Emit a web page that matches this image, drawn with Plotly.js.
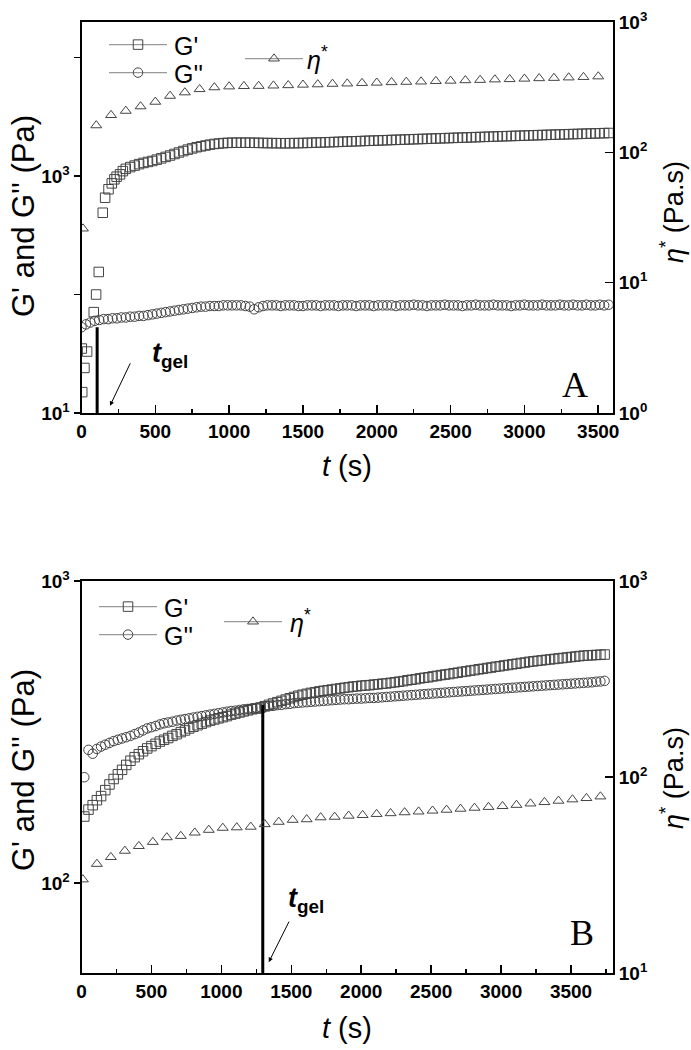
<!DOCTYPE html>
<html><head><meta charset="utf-8">
<script src="https://cdn.plot.ly/plotly-3.0.1.min.js"></script>
<style>html,body{margin:0;padding:0;background:#fff}</style>
</head><body><div id="chart" style="width:691px;height:1050px"></div>
<script>
// ---------- Panel A data ----------
const tA_GpEarly = [2,5,20,38,83,99,117,144,160,183,205,223,238,261,280];
const GpA_early  = [35,15,24,33,71,100,155,490,656,773,867,938,987,1033,1100];
const tA_GpStart = 300, tA_GpStep = 30;
const GpA = [1150,1190,1225,1260,1290,1315,1340,1375,1410,1450,
 1490,1535,1580,1625,1670,1710,1750,1780,1810,1840,
 1865,1880,1895,1905,1910,1912,1910,1912,1910,1908,
 1905,1900,1898,1895,1893,1892,1892,1893,1895,1897,
 1900,1905,1910,1915,1920,1925,1930,1936,1942,1948,
 1955,1960,1966,1972,1978,1985,1990,1996,2002,2008,
 2015,2020,2026,2032,2038,2045,2050,2056,2062,2068,
 2075,2080,2086,2092,2098,2105,2110,2116,2122,2128,
 2135,2140,2146,2152,2158,2165,2170,2176,2182,2188,
 2195,2200,2206,2212,2218,2225,2230,2236,2242,2248,
 2255,2260,2266,2272,2278,2285,2290,2296,2302,2308];
const tA_GppStart = 0, tA_GppStep = 30;
const GppA = [53,56,58,60,61,62,62,63,63,64,
 64,65,65,66,66,67,68,69,70,71,
 72,73,74,75,76,77,78,79,79,80,
 80,80,81,81,81,81,81,80,79,75,
 78,80,81,81,81,80,81,81,81,80,
 80,81,81,81,80,81,81,81,80,81,
 81,81,80,81,81,81,80,81,81,81,
 81,80,81,81,81,82,81,81,80,81,
 81,81,82,81,81,81,80,81,81,82,
 81,81,81,82,81,81,81,80,81,81,
 82,81,81,81,82,81,81,81,82,81,
 81,82,81,81,82,81,81,82,81,82];
const tA_eta = [10,100,200,300,400,500,600,700,800,900,1000,1100,1200,1300,1400,1500,1600,1700,1800,1900,2000,2100,2200,2300,2400,2500,2600,2700,2800,2900,3000,3100,3200,3300,3400,3500];
const etaA = [26,161,193,208,225,244,271,288,305,315,320,322,323,325,327,330,332,335,337,340,342,345,347,349,352,354,357,359,362,364,367,370,372,375,378,382];
const tgelA = 106, tgelA_top = 53, tgelA_bottom = 10;

// ---------- Panel B data ----------
const tB_start = 20, tB_step = 30;
const GpB = [166,175,181,188,194,203,212,221,229,237,
 246,254,261,267,273,279,284,289,294,298,
 302,307,311,316,320,325,329,333,337,341,
 345,348,351,354,357,361,364,367,370,373,
 376,378,381,385,389,393,397,401,405,409,
 413,417,420,423,426,428,431,433,435,437,
 439,441,443,445,447,448,450,451,452,454,
 455,457,458,460,462,464,466,469,471,473,
 476,478,480,483,485,488,490,492,495,497,
 500,502,505,507,510,512,515,517,520,522,
 525,527,530,532,535,537,540,542,544,546,
 548,550,552,554,556,558,560,562,564,566,
 567,568,569,570,571];
const GppB = [224,276,268,278,283,287,291,295,298,301,
 304,307,311,315,320,325,328,331,335,338,
 340,342,345,347,349,351,353,355,357,359,
 361,363,365,367,369,371,372,374,376,377,
 379,380,382,383,385,386,388,389,391,392,
 394,395,396,397,398,399,400,401,402,403,
 404,405,406,406,407,408,408,409,410,410,
 411,412,413,414,415,416,417,418,419,420,
 421,422,423,424,425,426,427,428,429,430,
 431,432,433,434,435,436,437,438,439,440,
 441,442,443,444,445,446,447,448,449,450,
 451,452,453,454,455,456,457,458,459,460,
 461,462,464,465,467];
const tB_eta = [10,110,210,310,410,510,610,710,810,910,1010,1110,1210,1310,1410,1510,1610,1710,1810,1910,2010,2110,2210,2310,2410,2510,2610,2710,2810,2910,3010,3110,3210,3310,3410,3510,3610,3710];
const etaB = [30,36,39,42,44.4,46.6,49.2,50,52,53.7,55,55.3,55.7,57.4,59,60.4,60.8,62.2,62.6,63.4,63.9,64.7,65.3,66,66.6,67.3,68,68.8,69.6,70.3,71,72,73.2,74.4,75.6,76.8,78,79.5];
const tgelB = 1296, tgelB_top = 390, tgelB_bottom = 50;

// ---------- ticks / labels ----------
const xTickStep = 500, xMinorStep = 250;
const yA_vals = [10,100,1000,10000], yA_text = ['10<sup>1</sup>',' ','10<sup>3</sup>',' '];
const yA2_vals = [1,10,100,1000], yA2_text = ['10<sup>0</sup>','10<sup>1</sup>','10<sup>2</sup>','10<sup>3</sup>'];
const yB_vals = [100,1000], yB_text = ['10<sup>2</sup>','10<sup>3</sup>'];
const yB2_vals = [10,100,1000], yB2_text = ['10<sup>1</sup>','10<sup>2</sup>','10<sup>3</sup>'];
const nameGp = "G'", nameGpp = "G''", nameEta = "<i>η</i><sup>*</sup>";

// ---------- layout helpers ----------
const W = 691, H = 1050;
const px = v => v / W, py = v => 1 - v / H;
const FONT = 'Liberation Sans, Arial, sans-serif';
const mcol = '#444', lcol = '#999';
const msz = 9.5;
const LEGSIZE = 25;

const mk = (sym) => ({symbol: sym, size: msz, color: mcol, line: {color: mcol, width: 1}});
const traces = [];
// Panel A
traces.push({x: tA_GpEarly, y: GpA_early, xaxis:'x', yaxis:'y', mode:'markers', marker: mk('square-open'), showlegend:false});
traces.push({x0: tA_GpStart, dx: tA_GpStep, y: GpA, xaxis:'x', yaxis:'y', mode:'markers', marker: mk('square-open'), showlegend:false});
traces.push({x0: tA_GppStart, dx: tA_GppStep, y: GppA, xaxis:'x', yaxis:'y', mode:'markers', marker: mk('circle-open'), showlegend:false});
traces.push({x: tA_eta, y: etaA, xaxis:'x', yaxis:'y2', mode:'markers', marker: mk('triangle-up-open'), showlegend:false});
traces.push({x: [tgelA, tgelA], y: [tgelA_bottom, tgelA_top], xaxis:'x', yaxis:'y', mode:'lines', line:{color:'#000', width:3}, showlegend:false});
// Panel B
traces.push({x0: tB_start, dx: tB_step, y: GpB, xaxis:'x2', yaxis:'y3', mode:'markers', marker: mk('square-open'), showlegend:false});
traces.push({x0: tB_start, dx: tB_step, y: GppB, xaxis:'x2', yaxis:'y3', mode:'markers', marker: mk('circle-open'), showlegend:false});
traces.push({x: tB_eta, y: etaB, xaxis:'x2', yaxis:'y4', mode:'markers', marker: mk('triangle-up-open'), showlegend:false});
traces.push({x: [tgelB, tgelB], y: [tgelB_bottom, tgelB_top], xaxis:'x2', yaxis:'y3', mode:'lines', line:{color:'#000', width:3}, showlegend:false});
// legend symbols (labels drawn as annotations below)
const legItem = (sym, leg, xa, ya) => ({x:[null], y:[null], xaxis: xa, yaxis: ya,
  name: ' ', mode:'lines+markers',
  line:{color: lcol, width: 1.2}, marker: mk(sym), legend: leg, showlegend: true});
traces.push(legItem('square-open', 'legend', 'x', 'y'));
traces.push(legItem('circle-open', 'legend2', 'x', 'y'));
traces.push(legItem('triangle-up-open', 'legend3', 'x', 'y2'));
traces.push(legItem('square-open', 'legend4', 'x2', 'y3'));
traces.push(legItem('circle-open', 'legend5', 'x2', 'y3'));
traces.push(legItem('triangle-up-open', 'legend6', 'x2', 'y4'));

const legend = (x, y) => ({x: px(x), xanchor:'left', y: py(y), yanchor:'middle', bgcolor:'rgba(0,0,0,0)',
  borderwidth:0, itemwidth:58, font:{family: FONT, size: 14, color:'#000'}, tracegroupgap:0});

const xDom = [px(81.5), px(613)];
const tickFont = {family: FONT, size: 19, color:'#000', weight: 'bold'};
const xAxis = (anchor, range) => ({domain: xDom, anchor: anchor, range: range, tick0: 0, dtick: xTickStep,
  ticks:'inside', ticklen: 8, tickwidth: 1.5, tickcolor:'#000',
  minor:{dtick: xMinorStep, tick0: 0, ticks:'inside', ticklen: 4, tickwidth: 1.5, tickcolor:'#000'},
  showline:true, linewidth:2, linecolor:'#000', mirror:true, showgrid:false, zeroline:false, tickfont: tickFont});
const yAxis = (dom, anchor, range, vals, text, extra) => Object.assign({domain: dom, anchor: anchor, type:'log', range: range,
  tickmode:'array', tickvals: vals, ticktext: text, ticks:'outside', ticklen: 6, tickwidth: 1.5, tickcolor:'#000',
  showline:true, linewidth:2, linecolor:'#000', showgrid:false, zeroline:false, tickfont: tickFont}, extra || {});

const domA = [py(413), py(22)], domB = [py(973), py(581)];

const ann = [];
const addText = (x, y, text, size, angle, fam, anchor) => ann.push({xref:'paper', yref:'paper', x: px(x), y: py(y), text: text,
  showarrow:false, textangle: angle || 0, xanchor: anchor || 'center', yanchor:'middle', font:{family: fam || FONT, size: size, color:'#000'}});
addText(23, 216, "G' and G'' (Pa)", 31, -90);
addText(672, 212, "<i>η</i><sup>*</sup> (Pa.s)", 27, -90);
addText(347, 466, "<i>t</i> (s)", 29);
addText(23, 770, "G' and G'' (Pa)", 31, -90);
addText(672, 778, "<i>η</i><sup>*</sup> (Pa.s)", 27, -90);
addText(347, 1028, "<i>t</i> (s)", 29);
addText(575, 385, "A", 36, 0, 'Liberation Serif, Times New Roman, serif');
addText(582, 933, "B", 36, 0, 'Liberation Serif, Times New Roman, serif');
addText(170, 355, "<b><i>t</i></b><b><sub>gel</sub></b>", 27);
addText(306, 900, "<b><i>t</i></b><b><sub>gel</sub></b>", 27);
// legend labels
addText(172, 46, nameGp, LEGSIZE, 0, FONT, 'left');
addText(172, 74, nameGpp, LEGSIZE, 0, FONT, 'left');
addText(305, 58, nameEta, LEGSIZE, 0, FONT, 'left');
addText(162, 608, nameGp, LEGSIZE, 0, FONT, 'left');
addText(162, 636, nameGpp, LEGSIZE, 0, FONT, 'left');
addText(288, 621, nameEta, LEGSIZE, 0, FONT, 'left');
// arrows (head in data coords)
const arrowA = {t: 193, v: 11.5, dx: 21, dy: -44};
const arrowB = {t: 1339, v: 54.7, dx: 21, dy: -42};
ann.push({xref:'x', yref:'y', x: arrowA.t, y: Math.log10(arrowA.v), ax: arrowA.dx, ay: arrowA.dy, text:'', showarrow:true,
  arrowhead:2, arrowsize:0.9, arrowwidth:1, arrowcolor:'#000'});
ann.push({xref:'x2', yref:'y3', x: arrowB.t, y: Math.log10(arrowB.v), ax: arrowB.dx, ay: arrowB.dy, text:'', showarrow:true,
  arrowhead:2, arrowsize:0.9, arrowwidth:1, arrowcolor:'#000'});

const layout = {
  width: W, height: H, margin:{l:0, r:0, t:0, b:0}, paper_bgcolor:'#fff', plot_bgcolor:'rgba(0,0,0,0)',
  font:{family: FONT, color:'#000'},
  xaxis: xAxis('y', [0, 3600]),
  yaxis: yAxis(domA, 'x', [1, 4.3], yA_vals, yA_text),
  yaxis2: yAxis(domA, 'x', [0, 3], yA2_vals, yA2_text, {overlaying:'y', side:'right', ticks:'inside', ticklen:8}),
  xaxis2: xAxis('y3', [0, 3800]),
  yaxis3: yAxis(domB, 'x2', [1.702, 3], yB_vals, yB_text),
  yaxis4: yAxis(domB, 'x2', [1, 3], yB2_vals, yB2_text, {overlaying:'y3', side:'right', ticks:'inside', ticklen:8}),
  legend: legend(104, 45), legend2: legend(104, 73), legend3: legend(240, 59),
  legend4: legend(94, 607), legend5: legend(94, 635), legend6: legend(219, 622),
  annotations: ann,
  showlegend: true
};
Plotly.newPlot('chart', traces, layout, {staticPlot: true, displayModeBar: false});
</script>
</body></html>
